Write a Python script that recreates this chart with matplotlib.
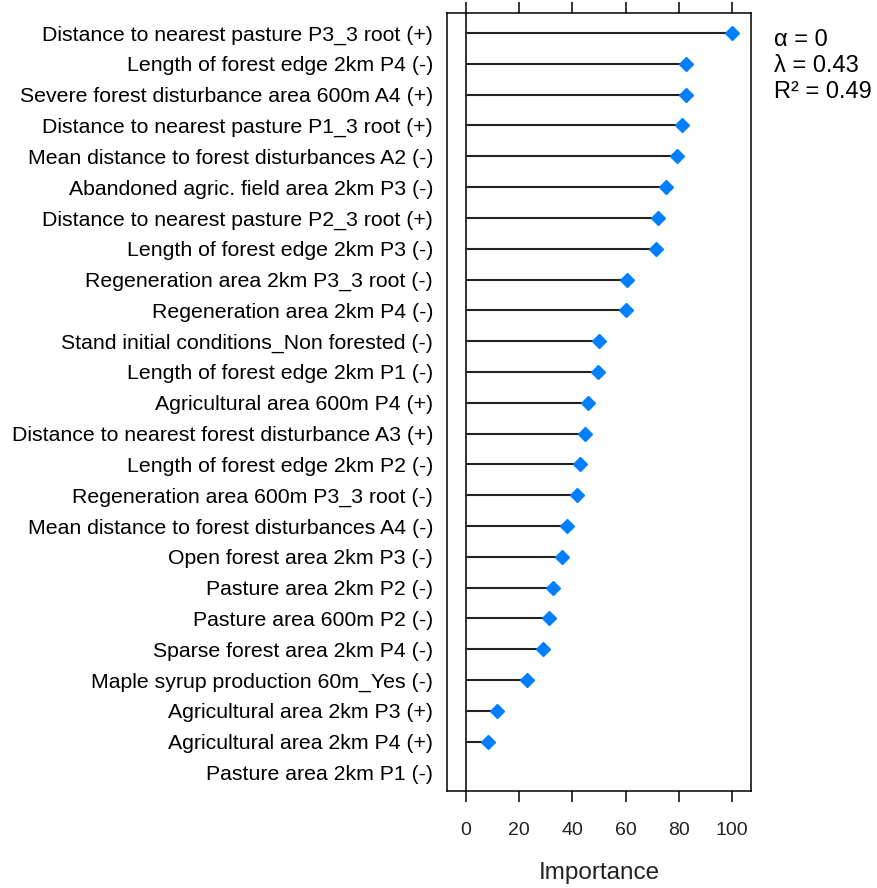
import numpy as np
import matplotlib.pyplot as plt

plt.rcParams['font.family'] = ['Liberation Sans', 'DejaVu Sans']

# variable names, top to bottom
labels = [
    'Distance to nearest pasture P3_3 root (+)',
    'Length of forest edge 2km P4 (-)',
    'Severe forest disturbance area 600m A4 (+)',
    'Distance to nearest pasture P1_3 root (+)',
    'Mean distance to forest disturbances A2 (-)',
    'Abandoned agric. field area 2km P3 (-)',
    'Distance to nearest pasture P2_3 root (+)',
    'Length of forest edge 2km P3 (-)',
    'Regeneration area 2km P3_3 root (-)',
    'Regeneration area 2km P4 (-)',
    'Stand initial conditions_Non forested (-)',
    'Length of forest edge 2km P1 (-)',
    'Agricultural area 600m P4 (+)',
    'Distance to nearest forest disturbance A3 (+)',
    'Length of forest edge 2km P2 (-)',
    'Regeneration area 600m P3_3 root (-)',
    'Mean distance to forest disturbances A4 (-)',
    'Open forest area 2km P3 (-)',
    'Pasture area 2km P2 (-)',
    'Pasture area 600m P2 (-)',
    'Sparse forest area 2km P4 (-)',
    'Maple syrup production 60m_Yes (-)',
    'Agricultural area 2km P3 (+)',
    'Agricultural area 2km P4 (+)',
    'Pasture area 2km P1 (-)',
]
importance = [100, 82.5, 82.5, 81.3, 79.3, 75.2, 72.1, 71.4, 60.6, 60.0,
              50.1, 49.6, 46.0, 44.7, 42.9, 41.7, 38.0, 36.3, 32.7, 31.3,
              29.0, 22.9, 11.9, 8.2, np.nan]
xticks = [0, 20, 40, 60, 80, 100]
stats = ['α = 0', 'λ = 0.43', 'R² = 0.49']

fig = plt.figure(figsize=(8.77, 8.88), dpi=100)
ax = fig.add_axes([0.5097, 0.1092, 0.3466, 0.8762])

y = np.arange(len(labels))
ax.axvline(0, color='#222222', lw=1.3, zorder=1)
ax.hlines(y, 0, importance, color='#222222', lw=1.5, zorder=2)
ax.plot(importance, y, 'D', color='#0080ff', ms=7, mec='#0080ff', zorder=3)

ax.set_xlim(-7, 107)
ax.set_ylim(len(labels) - 1 + 0.6, -0.65)
ax.set_yticks(y)
ax.set_yticklabels(labels, fontsize=15.3)
ax.set_xticks(xticks)
ax.set_xticklabels([str(t) for t in xticks], fontsize=14, color='#222222')
ax.tick_params(axis='y', length=0, pad=10)
ax.tick_params(axis='x', direction='out', length=8, width=1.1, pad=14,
               top=True, labeltop=False)
for s in ax.spines.values():
    s.set_linewidth(1.1)
ax.set_xlabel('Importance', fontsize=17.5, color='#222222', labelpad=17)

for i, s in enumerate(stats):
    fig.text(0.8826, 1 - (40 + 26 * i) / 888, s, fontsize=17,
             va='center', ha='left')

fig.savefig('out.png', dpi=100)
